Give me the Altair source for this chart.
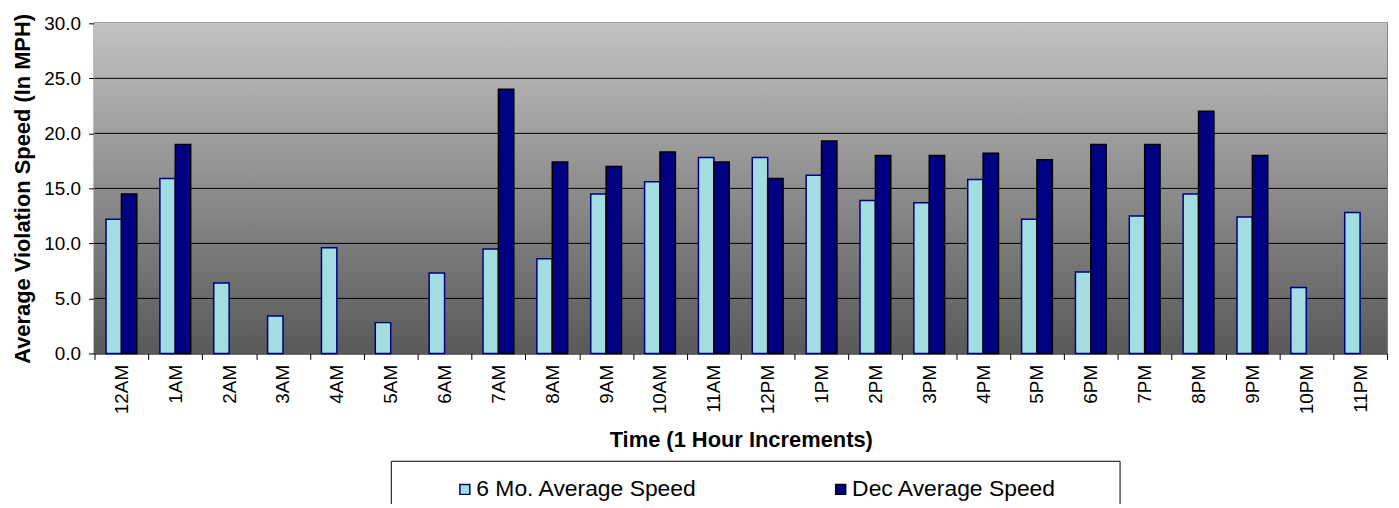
import altair as alt
import pandas as pd

hours = ["12AM", "1AM", "2AM", "3AM", "4AM", "5AM", "6AM", "7AM", "8AM", "9AM",
         "10AM", "11AM", "12PM", "1PM", "2PM", "3PM", "4PM", "5PM", "6PM", "7PM",
         "8PM", "9PM", "10PM", "11PM"]
six_mo = [12.2, 15.9, 6.4, 3.4, 9.6, 2.8, 7.3, 9.5, 8.6, 14.5,
          15.6, 17.8, 17.8, 16.2, 13.9, 13.7, 15.8, 12.2, 7.4, 12.5,
          14.5, 12.4, 6.0, 12.8]
dec = [14.5, 19.0, None, None, None, None, None, 24.0, 17.4, 17.0,
       18.3, 17.4, 15.9, 19.3, 18.0, 18.0, 18.2, 17.6, 19.0, 19.0,
       22.0, 18.0, None, None]
series = ["6 Mo. Average Speed", "Dec Average Speed"]
y_ticks = [0, 5, 10, 15, 20, 25, 30]

rows = []
for h, a, b in zip(hours, six_mo, dec):
    rows.append({"Hour": h, "Series": series[0], "Speed": a})
    if b is not None:
        rows.append({"Hour": h, "Series": series[1], "Speed": b})
df = pd.DataFrame(rows)
grid_df = pd.DataFrame({"v": y_ticks[1:-1]})

FONT = "Liberation Sans"
W, H = 1300, 332

legend = alt.Legend(title=" ", titleOrient="right", titlePadding=47,
                    orient="none", legendX=298, legendY=440,
                    direction="horizontal", columns=2, columnPadding=86,
                    symbolType="square", symbolSize=100,
                    symbolStrokeWidth=1.5, labelFontSize=23, labelLimit=400,
                    labelFont=FONT, labelColor="black",
                    strokeColor="black", fillColor="white",
                    padding=17, symbolOffset=46, labelOffset=0)

y_scale = alt.Scale(domain=[0, 30], nice=False, zero=True)
y_axis = alt.Axis(title="Average Violation Speed (In MPH)", values=y_ticks,
                  format=".1f", grid=False, tickSize=6, labelPadding=8,
                  titlePadding=9, titleFontSize=22,
                  domainColor="black", tickColor="black")

background = alt.Chart(grid_df).mark_rect(
    color=alt.LinearGradient(gradient="linear", x1=0, y1=0, x2=0, y2=1,
                             stops=[alt.GradientStop(color="#C2C2C2", offset=0),
                                    alt.GradientStop(color="#595959", offset=1)])
).encode(x=alt.value(0), x2=alt.value(W), y=alt.value(0), y2=alt.value(H))

grid = alt.Chart(grid_df).mark_rule(color="black", strokeWidth=1).encode(
    y=alt.Y("v:Q", scale=y_scale, axis=y_axis)
)

bars = alt.Chart(df).mark_bar(strokeWidth=1.5).encode(
    x=alt.X("Hour:N", sort=hours,
            scale=alt.Scale(paddingInner=0, paddingOuter=0),
            axis=alt.Axis(title="Time (1 Hour Increments)", labelAngle=-90,
                          tickBand="extent", labelPadding=5, tickSize=6,
                          titlePadding=16, domainColor="black", tickColor="black")),
    xOffset=alt.XOffset("Series:N", sort=series,
                        scale=alt.Scale(domain=series, paddingInner=0, paddingOuter=0.75)),
    y=alt.Y("Speed:Q", scale=y_scale, axis=y_axis),
    fill=alt.Fill("Series:N", sort=series,
                  scale=alt.Scale(domain=series, range=["#A2DEE1", "#000080"]),
                  legend=legend),
    stroke=alt.Stroke("Series:N", sort=series,
                      scale=alt.Scale(domain=series, range=["#000080", "#000000"]),
                      legend=legend),
)

chart = alt.layer(background, grid, bars).properties(
    width=W, height=H,
    autosize=alt.AutoSizeParams(type="none"),
    padding={"left": 87, "top": 14, "right": 4, "bottom": 150},
).configure_view(
    stroke="#808080", strokeWidth=2,
).configure_axis(
    labelFont=FONT, titleFont=FONT, labelFontSize=19, titleFontSize=22,
    labelColor="black", titleColor="black", titleFontWeight="bold",
)

chart.save("out.html", embed_options={"renderer": "svg", "actions": False})
